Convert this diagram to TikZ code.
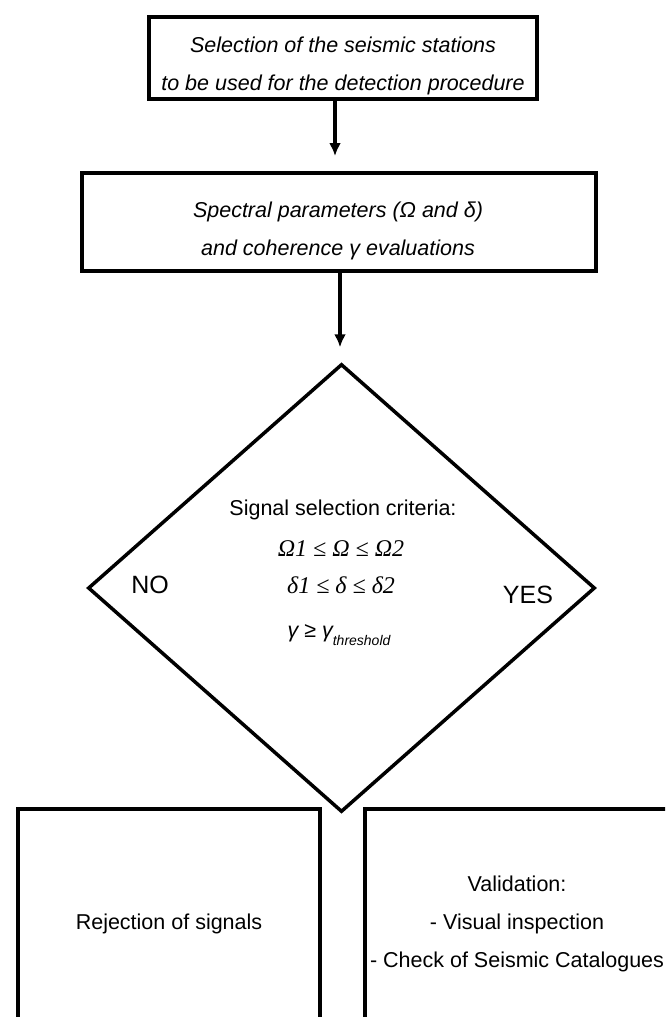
\documentclass[tikz,border=0pt]{standalone}
\usepackage{fontspec}
\setmainfont{Liberation Sans}
\newfontfamily\critserif{Liberation Serif}
\usetikzlibrary{shapes.geometric,arrows.meta}

\begin{document}
\begin{tikzpicture}[x=1pt,y=-1pt,
    box/.style={draw,line width=4pt,inner sep=0pt},
    decision/.style={draw,diamond,line width=3.5pt,inner sep=0pt,minimum width=507pt,minimum height=448pt},
    txt/.style={align=center,inner sep=0pt,font=\fontsize{21.5pt}{38pt}\selectfont},
    ittxt/.style={txt,font=\fontsize{21.5pt}{38pt}\selectfont\itshape},
    serifit/.style={txt,font=\fontsize{24pt}{38pt}\selectfont\critserif\itshape},
    answer/.style={txt,font=\fontsize{25pt}{25pt}\selectfont},
    flow/.style={line width=3.5pt,-{Latex[length=13pt,width=12pt]},shorten >=15pt}]
    \useasboundingbox (0,0) rectangle (665,1017);
    \clip (0,0) rectangle (665,1017);
    \node[box,minimum width=388pt,minimum height=82pt] (sel) at (343,58) {};
    \node[ittxt] (seltext) at (343,66) {Selection of the seismic stations\\to be used for the detection procedure};
    \node[box,minimum width=514pt,minimum height=98pt] (spec) at (339,222) {};
    \node[ittxt] (spectext) at (338,231) {Spectral parameters (Ω and δ)\\and coherence γ evaluations};
    \node[decision] (crit) at (341.5,588) {};
    \node[txt,anchor=base] (crithead) at (343,515) {Signal selection criteria:};
    \node[serifit,anchor=base] (critomega) at (341,556) {Ω1 ≤ Ω ≤ Ω2};
    \node[serifit,anchor=base] (critdelta) at (341,593) {δ1 ≤ δ ≤ δ2};
    \node[ittxt,anchor=base] (critgamma) at (339,637) {γ ≥ γ\raisebox{-8pt}{\fontsize{14pt}{14pt}\selectfont threshold}};
    \node[answer] (no) at (150,585) {NO};
    \node[answer] (yes) at (528,595) {YES};
    \node[box,txt,minimum width=302pt,minimum height=230pt] (reject) at (169,924) {Rejection of signals};
    \node[box,txt,minimum width=304pt,minimum height=230pt] (valid) at (517,924) {Validation:\\- Visual inspection\\- Check of Seismic Catalogues};
    \draw[flow] ([xshift=-8pt]sel.south) -- ([xshift=-4pt]spec.north);
    \draw[flow] ([xshift=1pt]spec.south) -- ([xshift=-1.5pt]crit.north);
\end{tikzpicture}
\end{document}
